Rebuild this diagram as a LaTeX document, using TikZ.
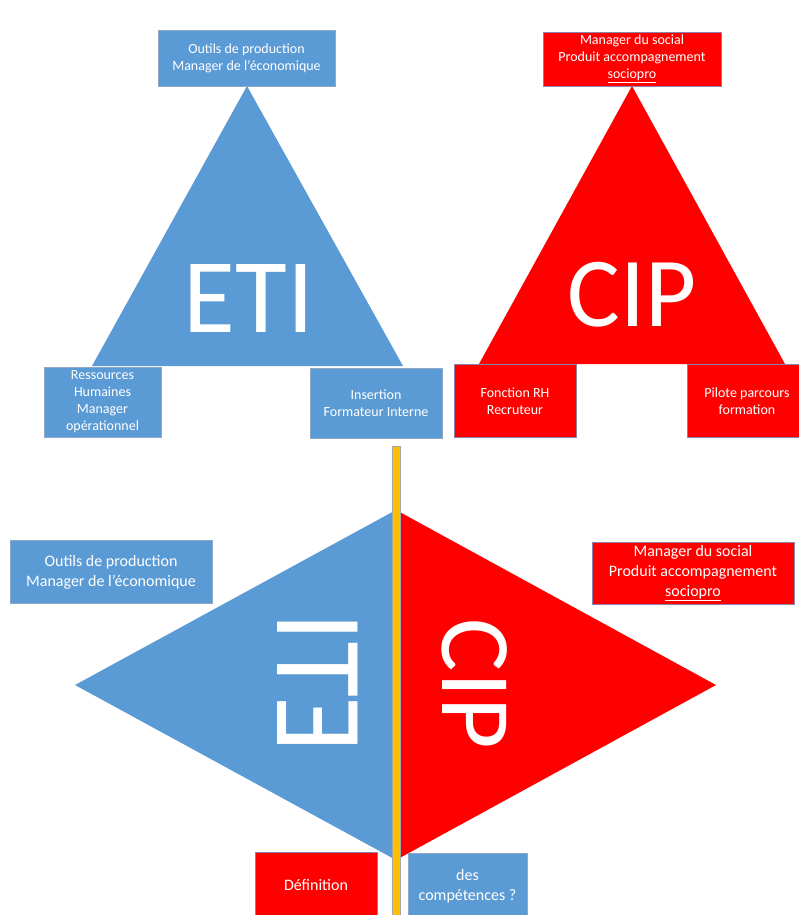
\documentclass[tikz,border=0pt]{standalone}
\usepackage{fontspec}
\setmainfont{Carlito}
\definecolor{etiblue}{HTML}{5B9BD5}
\definecolor{cipred}{HTML}{FF0000}
\definecolor{axisgold}{HTML}{FFC000}
\definecolor{blueedge}{HTML}{8FA9C8}
\definecolor{rededge}{HTML}{8A86A8}
\tikzset{
  card/.style={text=white, align=center, inner sep=0pt, line width=0.7pt},
  bluecard/.style={card, fill=etiblue, draw=blueedge},
  redcard/.style={card, fill=cipred, draw=rededge},
  smalltxt/.style={font=\fontsize{14}{17}\selectfont},
  midtxt/.style={font=\fontsize{16}{20}\selectfont},
  bigtxt/.style={text=white, inner sep=0pt, font=\fontsize{106}{106}\selectfont},
}
\begin{document}
\begin{tikzpicture}[x=1pt, y=-1pt]
\useasboundingbox (0,0) rectangle (798,915);

% ---------- upper ETI triangle ----------
\fill[etiblue] (247,86) -- (403,366) -- (92,366) -- cycle;
\node[bigtxt] (etiT) at (249,298) {ETI};
\node[bluecard, smalltxt, minimum width=177pt, minimum height=56pt]
  (etiTop) at (246.5,58) {Outils de production\\Manager de l'économique};
\node[bluecard, smalltxt, minimum width=117pt, minimum height=70pt]
  (etiLeft) at (102.5,402) {\raisebox{-3pt}{\parbox{117pt}{\centering Ressources\\Humaines\\Manager\\opérationnel}}};
\node[bluecard, smalltxt, minimum width=132pt, minimum height=70pt]
  (etiRight) at (376,403) {Insertion\\Formateur Interne};

% ---------- upper CIP triangle ----------
\fill[cipred] (632,86) -- (785,364) -- (479,364) -- cycle;
\node[bigtxt, font=\fontsize{99}{99}\selectfont] (cipT) at (632,295) {CIP};
\node[redcard, smalltxt, minimum width=178pt, minimum height=54pt]
  (cipTop) at (632,59) {Manager du social\\Produit accompagnement\\\underline{sociopro}};
\node[redcard, smalltxt, minimum width=122pt, minimum height=73pt]
  (cipLeft) at (515,401) {Fonction RH\\Recruteur};
\node[redcard, smalltxt, minimum width=120pt, minimum height=73pt]
  (cipRight) at (747,401) {Pilote parcours\\formation};

% ---------- lower diamond ----------
\fill[etiblue] (396,510) -- (75,685) -- (396,860) -- cycle;
\fill[cipred] (396,510) -- (716,685) -- (396,860) -- cycle;
\node[bigtxt, font=\fontsize{114}{114}\selectfont, cm={0,1,1.1,0,(0,0)}]
  (etiD) at (318,683) {ETI};
\node[bigtxt, font=\fontsize{100}{100}\selectfont, rotate=-90]
  (cipD) at (475,684) {CIP};
\draw[fill=axisgold, draw=gray!70, line width=0.6pt] (392,446) rectangle (400,916);

\node[bluecard, midtxt, minimum width=202pt, minimum height=63pt]
  (etiMid) at (111,572) {Outils de production\\Manager de l'économique};
\node[redcard, midtxt, minimum width=202pt, minimum height=62pt]
  (cipMid) at (693,573) {Manager du social\\Produit accompagnement\\\underline{sociopro}};

\node[redcard, midtxt, minimum width=122pt, minimum height=66pt]
  (defBox) at (316,885) {Définition};
\node[bluecard, midtxt, minimum width=119pt, minimum height=66pt]
  (compBox) at (467.5,886) {des\\compétences ?};
\end{tikzpicture}
\end{document}
